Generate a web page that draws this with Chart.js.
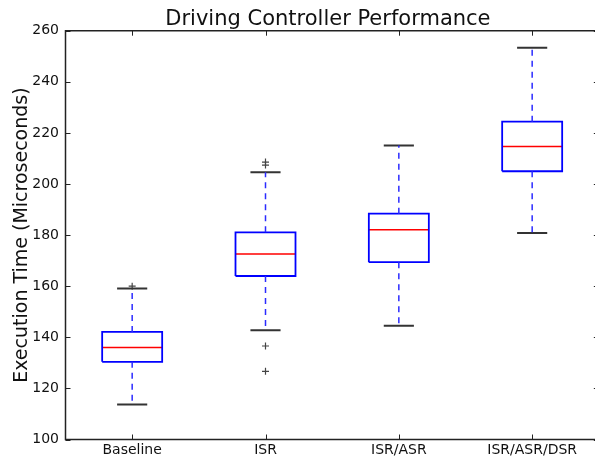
<!DOCTYPE html>
<html>
<head>
<meta charset="utf-8">
<script src="https://cdn.jsdelivr.net/npm/chart.js@4.4.1/dist/chart.umd.min.js"></script>
<style>
  html, body { margin: 0; padding: 0; background: #fff; }
  #wrap { width: 595px; height: 462px; }
</style>
</head>
<body>
<div id="wrap"><canvas id="chart" width="595" height="462"></canvas></div>
<script>
const categories = ['Baseline', 'ISR', 'ISR/ASR', 'ISR/ASR/DSR'];
const whiskerLow = [113.7, 142.8, 144.5, 180.8];
const q1 = [130.4, 164.0, 169.4, 205.0];
const medians = [136.0, 172.6, 182.1, 214.7];
const q3 = [142.1, 181.1, 188.4, 224.4];
const whiskerHigh = [159.1, 204.6, 215.1, 253.3];
// outliers per category
const outliers = [[160.0], [208.6, 207.4, 136.6, 126.7], [], []];
const yTicks = [100, 120, 140, 160, 180, 200, 220, 240, 260];

const boxHalf = 0.225;
const capHalf = 0.113;
const xEdge = 4.5; // the original axes run a bit past the image's right edge

// build line segments from the stats, null breaks the line
const boxPts = [], medPts = [], whiskPts = [], capPts = [], outPts = [];
categories.forEach((c, i) => {
    const x = i + 1;
    boxPts.push({x: x - boxHalf, y: q1[i]}, {x: x + boxHalf, y: q1[i]},
                {x: x + boxHalf, y: q3[i]}, {x: x - boxHalf, y: q3[i]},
                {x: x - boxHalf, y: q1[i]}, {x: x, y: null});
    medPts.push({x: x - boxHalf, y: medians[i]}, {x: x + boxHalf, y: medians[i]}, {x: x, y: null});
    whiskPts.push({x: x, y: q3[i]}, {x: x, y: whiskerHigh[i]}, {x: x, y: null},
                  {x: x, y: q1[i]}, {x: x, y: whiskerLow[i]}, {x: x, y: null});
    capPts.push({x: x - capHalf, y: whiskerHigh[i]}, {x: x + capHalf, y: whiskerHigh[i]}, {x: x, y: null},
                {x: x - capHalf, y: whiskerLow[i]}, {x: x + capHalf, y: whiskerLow[i]}, {x: x, y: null});
    outliers[i].forEach(v => outPts.push({x: x, y: v}));
});

function lineSet(data, color, width, dash) {
    return {
        data: data, showLine: true, spanGaps: false, fill: false,
        borderColor: color, borderWidth: width, borderDash: dash || [],
        pointRadius: 0, pointHoverRadius: 0, tension: 0
    };
}

// frame + inward tick marks, matplotlib classic look
const framePlugin = {
    id: 'frame',
    afterDatasetsDraw(chart) {
        const {ctx, chartArea: a, scales} = chart;
        const right = scales.x.getPixelForValue(xEdge);
        ctx.save();
        ctx.strokeStyle = '#222';
        ctx.lineWidth = 1;
        const len = 5;
        ctx.beginPath();
        yTicks.forEach(v => {
            const py = Math.round(scales.y.getPixelForValue(v)) + 0.5;
            ctx.moveTo(a.left, py); ctx.lineTo(a.left + len, py);
            ctx.moveTo(right, py); ctx.lineTo(right - len, py);
        });
        categories.forEach((c, i) => {
            const px = Math.round(scales.x.getPixelForValue(i + 1)) + 0.5;
            ctx.moveTo(px, a.bottom); ctx.lineTo(px, a.bottom - len);
            ctx.moveTo(px, a.top); ctx.lineTo(px, a.top + len);
        });
        ctx.stroke();
        ctx.lineWidth = 1.5;
        ctx.beginPath();
        ctx.moveTo(right, a.top); ctx.lineTo(a.left, a.top);
        ctx.lineTo(a.left, a.bottom); ctx.lineTo(right, a.bottom);
        ctx.lineTo(right, a.top);
        ctx.stroke();
        ctx.restore();
    }
};

new Chart(document.getElementById('chart'), {
    type: 'scatter',
    data: {
        datasets: [
            lineSet(whiskPts, '#2b2bff', 1.5, [6, 5]),
            lineSet(boxPts, '#0000ff', 1.8),
            lineSet(medPts, '#ff0000', 1.5),
            lineSet(capPts, '#333333', 2),
            {
                data: outPts, showLine: false, pointStyle: 'cross',
                pointRadius: 3.5, borderColor: '#444', borderWidth: 1.2,
                pointHoverRadius: 3.5
            }
        ]
    },
    plugins: [framePlugin],
    options: {
        responsive: false,
        animation: false,
        devicePixelRatio: 1,
        layout: { padding: { top: 0, right: 0, bottom: 1.7, left: 17.8 } },
        plugins: {
            legend: { display: false },
            tooltip: { enabled: false },
            title: {
                display: true,
                fullSize: false,
                text: 'Driving Controller Performance',
                color: '#111',
                font: { family: 'DejaVu Sans', size: 21, weight: 'normal' },
                padding: { top: 7, bottom: -1.5 }
            }
        },
        scales: {
            x: {
                type: 'linear', min: 0.5, max: 4.436,
                afterBuildTicks(axis) { axis.ticks = categories.map((c, i) => ({value: i + 1})); },
                ticks: {
                    callback: v => categories[v - 1],
                    color: '#111', padding: 2,
                    font: { family: 'DejaVu Sans', size: 14 },
                    maxRotation: 0, autoSkip: false
                },
                grid: { display: false, drawTicks: false },
                border: { display: false }
            },
            y: {
                min: 100, max: 260,
                afterBuildTicks(axis) { axis.ticks = yTicks.map(v => ({value: v})); },
                ticks: {
                    color: '#111', padding: 6.5,
                    font: { family: 'DejaVu Sans', size: 14 }
                },
                grid: { display: false, drawTicks: false },
                border: { display: false },
                title: {
                    display: true,
                    text: 'Execution Time (Microseconds)',
                    color: '#111',
                    font: { family: 'DejaVu Sans', size: 19, lineHeight: 0.42 },
                    padding: { top: 0, bottom: 0 }
                }
            }
        }
    }
});
</script>
</body>
</html>
